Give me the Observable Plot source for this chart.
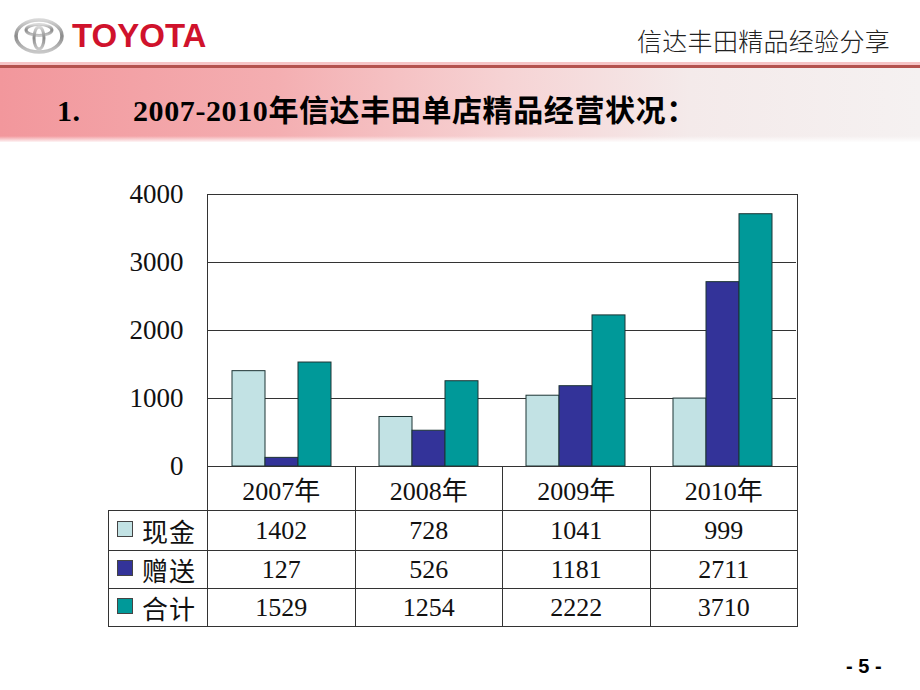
<!DOCTYPE html>
<html>
<head>
<meta charset="utf-8">
<script src="https://cdn.jsdelivr.net/npm/d3@7"></script>
<script src="https://cdn.jsdelivr.net/npm/@observablehq/plot@0.6"></script>
<style>
  html, body { margin: 0; padding: 0; }
  body { width: 920px; height: 690px; position: relative; overflow: hidden; background: #fff;
         font-family: "Liberation Serif", "Noto Sans CJK SC", serif; }
  #logo { position: absolute; left: 14px; top: 16px; height: 40px; display: flex; align-items: center; }
  #logo span { font-family: "Liberation Sans", Arial, sans-serif; font-weight: bold; font-size: 33px;
               color: #D0122C; margin-left: 8px; letter-spacing: 0px; line-height: 40px; }
  #subtitle { position: absolute; right: 30px; top: 22px; font-family: "Noto Sans CJK SC", sans-serif;
              font-size: 25px; color: #222; font-weight: 300; letter-spacing: 0.3px; }
  #topline { position: absolute; left: 0; top: 62px; width: 920px; height: 3px; background: #f6c4c6; }
  #redline { position: absolute; left: 0; top: 65px; width: 920px; height: 3px; background: #B4524E; }
  #banner { position: absolute; left: 0; top: 68px; width: 920px; height: 74px;
            background: linear-gradient(to right, #f2979c 0%, #f4aeb1 30%, #f6d3d4 55%, #f4eaea 75%, #f5f1f1 100%); }
  #banner::after { content: ""; position: absolute; left: 0; right: 0; bottom: 0; height: 6px;
            background: linear-gradient(to bottom, rgba(255,255,255,0), rgba(255,255,255,0.9)); }
  #title { position: absolute; top: 94px; left: 57px; font-weight: bold; font-size: 30px; color: #000;
           font-family: "Liberation Serif", "Noto Sans CJK SC", serif; white-space: pre; line-height: 34px;
           letter-spacing: 0.6px; }
  #title .num { display: inline-block; width: 76px; }
  #chart { position: absolute; left: 0; top: 174px; }
  #frame { position: absolute; left: 207px; top: 194px; width: 591px; height: 273px; box-sizing: border-box;
           border: 1px solid #333; pointer-events: none; }
  #tbl { position: absolute; left: 108px; top: 466px; border-collapse: collapse; table-layout: fixed;
         font-family: "Liberation Serif", "Noto Sans CJK SC", serif; font-size: 26px; color: #111; }
  #tbl td { border: 1px solid #333; text-align: center; padding: 0; white-space: nowrap; }
  #tbl td.blank { border-top: none; border-left: none; }
  #tbl td.leg { text-align: left; padding-left: 8px; }
  #tbl .sw { display: inline-block; width: 14px; height: 14px; border: 1px solid #444; vertical-align: middle;
             margin-right: 9px; position: relative; top: -2px; }
  #tbl .lt { font-family: "Noto Sans CJK SC", sans-serif; font-size: 26px; vertical-align: middle; letter-spacing: 1px; }
  #page { position: absolute; left: 846px; top: 655px; font-family: "Liberation Sans", Arial, sans-serif;
          font-weight: bold; font-size: 20px; color: #000; white-space: pre; }
</style>
</head>
<body>
<div id="logo">
  <svg width="50" height="36" viewBox="0 0 50 36">
    <defs>
      <linearGradient id="chrome" x1="0" y1="0" x2="0" y2="1">
        <stop offset="0" stop-color="#d8d8d8"/><stop offset="0.5" stop-color="#8a8a8a"/><stop offset="1" stop-color="#c8c8c8"/>
      </linearGradient>
    </defs>
    <ellipse cx="25" cy="18" rx="23" ry="16" fill="none" stroke="url(#chrome)" stroke-width="3.5"/>
    <ellipse cx="25" cy="12" rx="13" ry="5.5" fill="none" stroke="url(#chrome)" stroke-width="3"/>
    <ellipse cx="25" cy="20" rx="5" ry="11" fill="none" stroke="url(#chrome)" stroke-width="3"/>
  </svg>
  <span>TOYOTA</span>
</div>
<div id="subtitle">信达丰田精品经验分享</div>
<div id="topline"></div>
<div id="redline"></div>
<div id="banner"></div>
<div id="title"><span class="num">1.</span>2007-2010年信达丰田单店精品经营状况：</div>
<div id="chart"></div>
<div id="frame"></div>
<table id="tbl"></table>
<div id="page">- 5 -</div>

<script>
// ---- data ----
const years = ["2007年", "2008年", "2009年", "2010年"];
const seriesNames = ["现金", "赠送", "合计"];
const cash = [1402, 728, 1041, 999];
const gift = [127, 526, 1181, 2711];
const total = [1529, 1254, 2222, 3710];
const yTicks = [0, 1000, 2000, 3000, 4000];
const seriesColors = ["#C2E2E4", "#333399", "#009999"];

const seriesValues = [cash, gift, total];
const rows = [];
years.forEach((yr, i) => {
  seriesNames.forEach((s, j) => rows.push({year: yr, series: s, value: seriesValues[j][i]}));
});

const chart = Plot.plot({
  width: 920,
  height: 312,
  marginLeft: 207,
  marginRight: 123,
  marginTop: 20,
  marginBottom: 20,
  style: {fontFamily: "'Liberation Serif', serif", fontSize: "27px", color: "#111", background: "transparent", overflow: "visible"},
  facet: {data: rows, x: "year"},
  fx: {domain: years, padding: 0, axis: null, label: null},
  x: {domain: seriesNames, paddingInner: 0, paddingOuter: 0.7, axis: null},
  y: {domain: [0, 4000], ticks: yTicks, tickSize: 0, tickPadding: 25, label: null, tickFormat: d => String(d)},
  color: {domain: seriesNames, range: seriesColors},
  marks: [
    Plot.ruleY(yTicks, {stroke: "#333", strokeWidth: 1}),
    Plot.barY(rows, {x: "series", y: "value", fill: "series", stroke: "#1d3434", strokeWidth: 1, inset: 0})
  ]
});
document.getElementById("chart").appendChild(chart);

// ---- data table ----
const tbl = d3.select("#tbl");
const colg = tbl.append("colgroup");
colg.append("col").style("width", "99px");
years.forEach(() => colg.append("col").style("width", "147.5px"));
const hdr = tbl.append("tr").style("height", "44px");
hdr.append("td").attr("class", "blank");
years.forEach(y => hdr.append("td").text(y));
const rowHeights = ["40px", "38px", "37px"];
seriesNames.forEach((s, j) => {
  const tr = tbl.append("tr").style("height", rowHeights[j]);
  const c = tr.append("td").attr("class", "leg");
  c.append("span").attr("class", "sw").style("background", seriesColors[j]);
  c.append("span").attr("class", "lt").text(s);
  seriesValues[j].forEach(v => tr.append("td").text(v));
});
</script>
</body>
</html>
